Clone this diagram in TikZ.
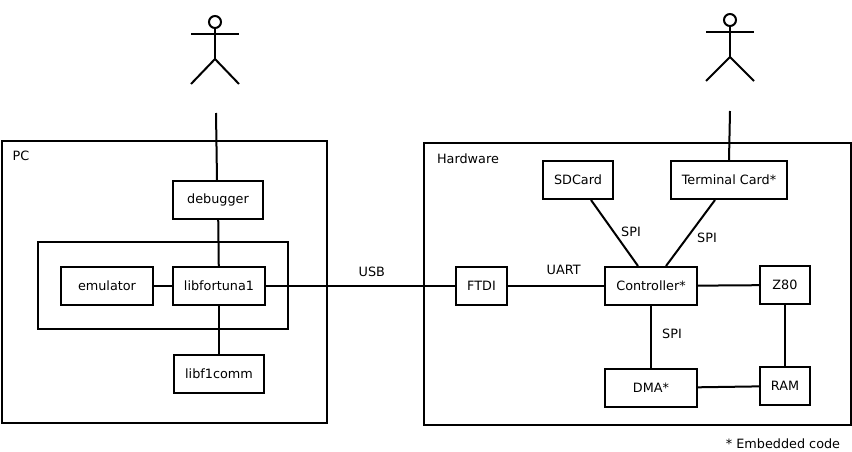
\documentclass[tikz,border=0pt]{standalone}
\usepackage{tikz}
\usepackage{xcolor}
\usepackage{fontspec}
\setmainfont{DejaVu Sans}

\begin{document}
\begin{tikzpicture}[x=1pt,y=-1pt,line width=2pt,font=\fontsize{12.8}{14}\selectfont]
    % Define block shapes
    \tikzstyle{block}=[draw, rectangle, minimum height=38pt, inner sep=0pt]
    \tikzstyle{group}=[draw, rectangle, inner sep=0pt]
    \tikzstyle{head}=[draw, circle, minimum width=12pt, inner sep=0pt]
    \tikzstyle{label}=[inner sep=0pt]

    \useasboundingbox (0,0) rectangle (852,452);

    % Place outer frames
    \node[group, minimum width=325pt, minimum height=282pt] (pc_frame) at (164.5,282) {};
    \node[group, minimum width=250pt, minimum height=87pt] (lib_frame) at (163,285.5) {};
    \node[group, minimum width=427pt, minimum height=282pt] (hw_frame) at (637.5,284) {};
    \node[label] (pc_label) at (21,156) {PC};
    \node[label] (hw_label) at (468,159) {Hardware};

    % Place PC blocks
    \node[block, minimum width=90pt] (debugger) at (218,200) {debugger};
    \node[block, minimum width=92pt] (emulator) at (107,286) {emulator};
    \node[block, minimum width=92pt] (libfortuna) at (219,286) {libfortuna1};
    \node[block, minimum width=90pt] (libf1comm) at (219,374) {libf1comm};

    % Place hardware blocks
    \node[block, minimum width=70pt] (sdcard) at (578,180) {SDCard};
    \node[block, minimum width=116pt] (terminal) at (729,180) {Terminal Card*};
    \node[block, minimum width=51pt] (ftdi) at (481.5,286) {FTDI};
    \node[block, minimum width=92pt] (controller) at (651,286) {Controller*};
    \node[block, minimum width=50pt] (z80) at (785,285) {Z80};
    \node[block, minimum width=92pt] (dma) at (651,388) {DMA*};
    \node[block, minimum width=50pt] (ram) at (785,386) {RAM};

    % Place actors
    \node[head] (head1) at (215,22) {};
    \draw (head1.south) -- ++(0,30) coordinate (hip1);
    \draw (191,34) -- (239,34);
    \draw (191,84) -- (hip1) -- (239,84);
    \node[head] (head2) at (730,20) {};
    \draw (head2.south) -- ++(0,30) coordinate (hip2);
    \draw (706,32) -- (754,32);
    \draw (706,81) -- (hip2) -- (754,81);

    % Connect actors to blocks
    \coordinate (user1) at (216,113);
    \coordinate (user2) at (730,111);
    \draw (user1) -- (debugger.north -| 217,0);
    \draw (user2) -- (terminal.north);

    % Connect PC blocks
    \draw (debugger) -- (libfortuna);
    \draw (emulator) -- (libfortuna);
    \draw (libfortuna) -- (libf1comm);
    \draw (libfortuna) -- node[label, pos=0.56, above=8pt] {USB} (ftdi);

    % Connect hardware blocks
    \draw (ftdi) -- node[label, pos=0.58, above=10pt] {UART} (controller);
    \draw ([xshift=13pt]sdcard.south) -- ([xshift=-13pt]controller.north);
    \draw ([xshift=-14pt]terminal.south) -- ([xshift=15pt]controller.north);
    \draw (controller) -- (z80);
    \draw (controller) -- (dma);
    \draw (dma) -- (ram);
    \draw (z80) -- (ram);

    % SPI labels
    \node[label] (spi1) at (631,232) {SPI};
    \node[label] (spi2) at (707,238) {SPI};
    \node[label] (spi3) at (672,334) {SPI};

    % Footnote
    \node[label] (note) at (783,444) {* Embedded code};
\end{tikzpicture}
\end{document}
